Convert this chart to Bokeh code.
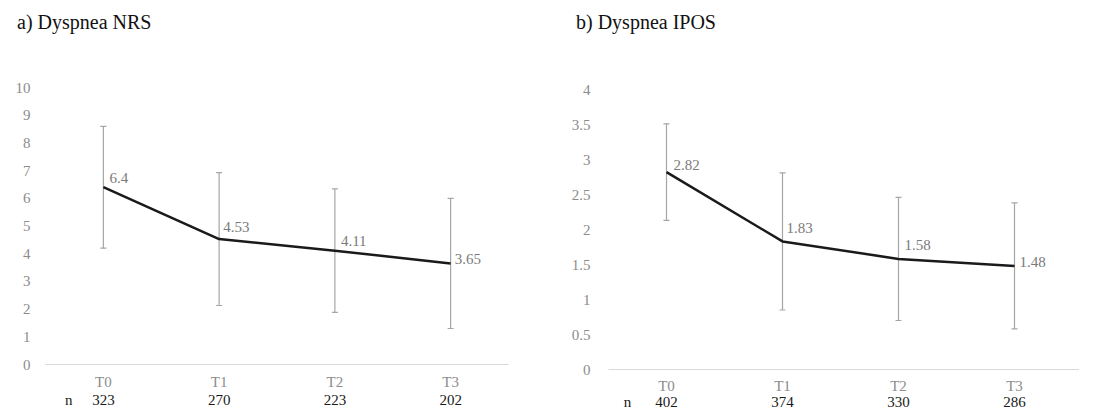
from bokeh.plotting import figure
from bokeh.models import (ColumnDataSource, Range1d, FixedTicker, LinearAxis, Whisker,
                          TeeHead, LabelSet, Div)
from bokeh.layouts import row, column
from bokeh.core.properties import value
from bokeh.embed import file_html
from bokeh.resources import INLINE

# ---------------- data ----------------
timepoints = ["T0", "T1", "T2", "T3"]

nrs_title = "a) Dyspnea NRS"
nrs_mean = [6.4, 4.53, 4.11, 3.65]
nrs_sd = [2.2, 2.4, 2.23, 2.35]
nrs_n = [323, 270, 223, 202]
nrs_ticks = [0, 1, 2, 3, 4, 5, 6, 7, 8, 9, 10]
nrs_tick_labels = ["0", "1", "2", "3", "4", "5", "6", "7", "8", "9", "10"]

ipos_title = "b) Dyspnea IPOS"
ipos_mean = [2.82, 1.83, 1.58, 1.48]
ipos_sd = [0.69, 0.98, 0.88, 0.9]
ipos_n = [402, 374, 330, 286]
ipos_ticks = [0, 0.5, 1, 1.5, 2, 2.5, 3, 3.5, 4]
ipos_tick_labels = ["0", "0.5", "1", "1.5", "2", "2.5", "3", "3.5", "4"]

n_label = "n"

# ---------------- style ----------------
FONT = "Liberation Serif"
TICK_COLOR = "#8c8c8c"
VAL_COLOR = "#7a7a7a"
BAR_COLOR = "#a6a6a6"
LINE_COLOR = "#1a1a1a"
DIV_H = 40


def make_panel(title, means, sds, ns, ticks, tick_labels, cfg):
    xs = list(range(len(timepoints)))
    src = ColumnDataSource(dict(
        x=xs, mean=means,
        upper=[m + s for m, s in zip(means, sds)],
        lower=[m - s for m, s in zip(means, sds)],
        lbl=[str(m) for m in means],
        dx=cfg["dx"], dy=cfg["dy"],
    ))
    p = figure(frame_width=cfg["fw"], frame_height=cfg["fh"],
               x_range=Range1d(-0.5, cfg["xend"]), y_range=Range1d(0, ticks[-1]),
               min_border_left=cfg["bl"], min_border_right=cfg["br"],
               min_border_top=cfg["bt"], min_border_bottom=cfg["bb"],
               output_backend="svg", toolbar_location=None,
               x_axis_location=None, y_axis_location=None)
    p.outline_line_color = None
    p.background_fill_color = "white"
    p.border_fill_color = "white"
    p.xgrid.visible = False
    p.ygrid.visible = False

    # y axis
    yax = LinearAxis(ticker=FixedTicker(ticks=ticks),
                     major_label_overrides={t: l for t, l in zip(ticks, tick_labels)})
    yax.axis_line_color = None
    yax.major_tick_line_color = None
    yax.minor_tick_line_color = None
    yax.major_label_text_font = FONT
    yax.major_label_text_font_size = "15px"
    yax.major_label_text_color = TICK_COLOR
    yax.major_label_standoff = cfg["ystand"]
    p.add_layout(yax, "left")

    # x axis (time points)
    xax = LinearAxis(ticker=FixedTicker(ticks=xs),
                     major_label_overrides={i: t for i, t in zip(xs, timepoints)})
    xax.axis_line_color = "#d9d9d9"
    xax.axis_line_width = 1
    xax.major_tick_line_color = None
    xax.minor_tick_line_color = None
    xax.major_label_text_font = FONT
    xax.major_label_text_font_size = "15px"
    xax.major_label_text_color = TICK_COLOR
    xax.major_label_standoff = cfg["xstand1"]
    p.add_layout(xax, "below")

    # x axis (sample sizes, with the "n" row header)
    n_pos = [cfg["npos"]] + xs
    n_txt = [n_label] + [str(n) for n in ns]
    nax = LinearAxis(ticker=FixedTicker(ticks=n_pos),
                     major_label_overrides={i: t for i, t in zip(n_pos, n_txt)})
    nax.axis_line_color = None
    nax.major_tick_line_color = None
    nax.minor_tick_line_color = None
    nax.major_label_text_font = FONT
    nax.major_label_text_font_size = "15px"
    nax.major_label_text_color = "#1a1a1a"
    nax.major_label_standoff = cfg["xstand2"]
    p.add_layout(nax, "below")

    p.line("x", "mean", source=src, line_color=LINE_COLOR, line_width=2.5)

    head = dict(size=6, line_color=BAR_COLOR, line_width=1.2)
    p.add_layout(Whisker(base="x", upper="upper", lower="lower", source=src,
                         line_color=BAR_COLOR, line_width=1.2,
                         upper_head=TeeHead(**head), lower_head=TeeHead(**head)))

    p.add_layout(LabelSet(x="x", y="mean", text="lbl", source=src,
                          x_offset="dx", y_offset="dy",
                          text_font=value(FONT), text_font_size="15px",
                          text_color=VAL_COLOR, text_baseline="middle",
                          text_align="left"))

    div = Div(text=(f'<div style="padding:{cfg["tpad_top"]}px 0 0 {cfg["tpad_left"]}px;'
                    f'font-family:\'{FONT}\';font-size:20px;line-height:23px;'
                    f'color:#111111;white-space:nowrap;">{title}</div>'),
              width=cfg["bl"] + cfg["fw"] + cfg["br"], height=DIV_H, margin=(0, 0, 0, 0))
    return column(div, p, spacing=0)


left_cfg = dict(fw=463, fh=277, xend=3.5, bl=45, br=37, bt=87 - DIV_H, bb=39,
                ystand=9, xstand1=3, xstand2=-7, npos=-0.3,
                dx=[6, 4, 6, 4], dy=[9, 12, 10, 4],
                tpad_top=11, tpad_left=17)
right_cfg = dict(fw=471, fh=280, xend=-0.5 + 471 / 116, bl=63, br=0, bt=89 - DIV_H, bb=34,
                 ystand=12, xstand1=2, xstand2=-9, npos=-0.336,
                 dx=[7, 4, 6, 5], dy=[7, 13, 14, 4],
                 tpad_top=11, tpad_left=31)

p1 = make_panel(nrs_title, nrs_mean, nrs_sd, nrs_n, nrs_ticks, nrs_tick_labels, left_cfg)
p2 = make_panel(ipos_title, ipos_mean, ipos_sd, ipos_n, ipos_ticks, ipos_tick_labels, right_cfg)

layout = row(p1, p2, spacing=0)
open("out.html", "w").write(file_html(layout, INLINE))
